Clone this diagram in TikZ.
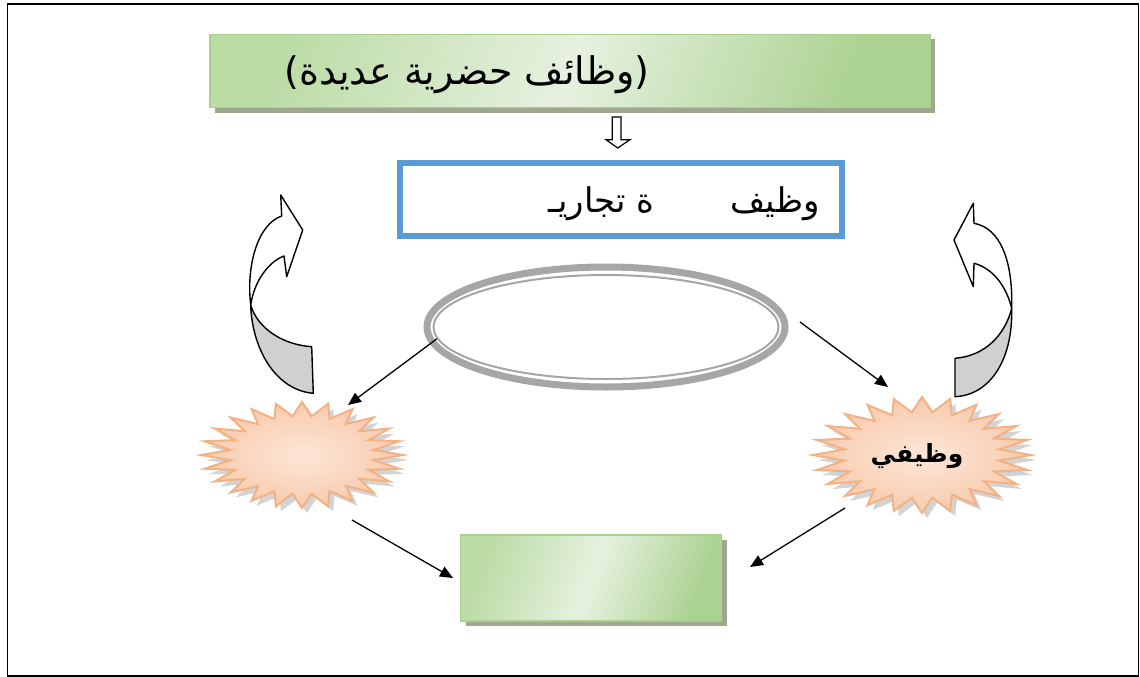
\documentclass[tikz,border=0pt]{standalone}
\usepackage{fontspec}
\usepackage{tikz}
\usetikzlibrary{shapes.geometric,shadows,arrows.meta}
\newfontfamily\arabicfont[Script=Arabic]{DejaVu Sans}
\newfontfamily\latinfont{DejaVu Sans}
\TeXXeTstate=1

\definecolor{gleft}{HTML}{BCDCA6}
\definecolor{gright}{HTML}{ABD291}
\definecolor{glight}{HTML}{E6F1DF}
\definecolor{gline}{HTML}{A9D18E}
\definecolor{gshadow}{HTML}{9DA88F}
\definecolor{boxblue}{HTML}{5B9BD5}
\definecolor{ringgray}{HTML}{A6A6A6}
\definecolor{burstline}{HTML}{F4B183}
\definecolor{burstin}{HTML}{FCE6D8}
\definecolor{burstout}{HTML}{F8CBAD}
\definecolor{bandgray}{HTML}{D0D0D0}

\tikzset{
  greenbox/.style={draw=gline, line width=1.5pt, left color=gleft, right color=gright,
    middle color=glight, shading angle=70, inner sep=0pt,
    drop shadow={shadow xshift=5pt, shadow yshift=-5pt, fill=gshadow, opacity=1}},
  bluebox/.style={draw=boxblue, line width=5.5pt, fill=white, inner sep=0pt},
  burst/.style={draw=burstline, line width=2pt, line join=miter, inner color=burstin,
    outer color=burstout,
    drop shadow={shadow xshift=5pt, shadow yshift=-5pt, fill=gray, opacity=0.35}},
  ringline/.style={ellipse, draw=ringgray, inner sep=0pt},
  link/.style={line width=1.3pt, -{Triangle[length=13pt,width=11pt]}},
  band/.style={draw=black, line width=1.4pt, line join=round},
  artext/.style={font=\arabicfont\fontsize{#1}{#1}\selectfont, inner sep=0pt}
}

\begin{document}
\begin{tikzpicture}[x=1pt,y=-1pt]
\useasboundingbox (0,0) rectangle (1140,677);
\draw[line width=1.5pt] (7.5,4) rectangle (1138.5,676);

\node[greenbox, minimum width=720pt, minimum height=73pt] (topbox) at (570,71) {};
\node[artext=38] (toptext) at (467,75) {{\latinfont(}\beginR وظائف حضرية عديدة\endR{\latinfont)}};

\draw[line width=1.2pt, line join=miter, fill=white] (612.3,117) -- (621,117) -- (621,139.7) -- (630,139.7)
  -- (617.7,148) -- (606,139.7) -- (612.3,139.7) -- cycle;

\node[bluebox, minimum width=442pt, minimum height=73pt] (trade) at (621,199.5) {};
\node[artext=34] (tradetext) at (684,204) {\beginR وظيف\hspace{76pt}ة تجاريـ\endR};

\node[ringline, line width=7pt, minimum width=358pt, minimum height=120pt] (ring) at (606,327) {};
\node[ringline, line width=2pt, minimum width=345pt, minimum height=104pt] (ringin) at (ring.center) {};

\coordinate (burstL) at (302,455);
\coordinate (burstR) at (922,455);
\draw[burst] ([shift={(burstL)}]0:101pt and 53pt) \foreach \k in {0,...,23} {
  -- ([shift={(burstL)}]\k*15+7.5:72pt and 39pt) -- ([shift={(burstL)}]\k*15+15:101pt and 53pt) } -- cycle;
\draw[burst] ([shift={(burstR)}]0:109pt and 58pt) \foreach \k in {0,...,23} {
  -- ([shift={(burstR)}]\k*15+7.5:78pt and 43pt) -- ([shift={(burstR)}]\k*15+15:109pt and 58pt) } -- cycle;
\node[artext=24, font=\arabicfont\bfseries\fontsize{25}{25}\selectfont] (burstRtext) at (917,456) {\beginR وظيفي\endR};

\node[greenbox, minimum width=261pt, minimum height=86pt] (bottombox) at (591,578) {};

\coordinate (a1end) at (348,405);
\coordinate (a2beg) at (800,322);
\coordinate (a2end) at (888,387);
\coordinate (a3beg) at (352,520);
\coordinate (a3end) at (453,578);
\coordinate (a4beg) at (845,508);
\coordinate (a4end) at (750,567);
\draw[link] (ringin.184) -- (a1end);
\draw[link] (a2beg) -- (a2end);
\draw[link] (a3beg) -- (a3end);
\draw[link] (a4beg) -- (a4end);

\draw[band, fill=white] (250.7,305) .. controls (246,265) and (258,224) .. (281.7,216) -- (280.7,195)
  -- (302.7,230) -- (286.7,276.7) -- (284,256) .. controls (268,262) and (254,282) .. (250.7,305) -- cycle;
\draw[band, fill=bandgray] (250.7,305) .. controls (252,348) and (275,390) .. (313.3,393.3) -- (311.7,346.7)
  .. controls (285,345) and (258,330) .. (250.7,305) -- cycle;

\draw[band, fill=white] (1011.7,308.3) .. controls (1013,260) and (1000,228) .. (974,223.3) -- (973.3,203.3)
  -- (954,240) -- (973.3,286.7) -- (974,263.3) .. controls (992,268) and (1006,285) .. (1011.7,308.3) -- cycle;
\draw[band, fill=bandgray] (1011.7,308.3) .. controls (1013,360) and (990,395) .. (955,396.7) -- (955,358.3)
  .. controls (985,356) and (1005,335) .. (1011.7,308.3) -- cycle;
\end{tikzpicture}
\end{document}
